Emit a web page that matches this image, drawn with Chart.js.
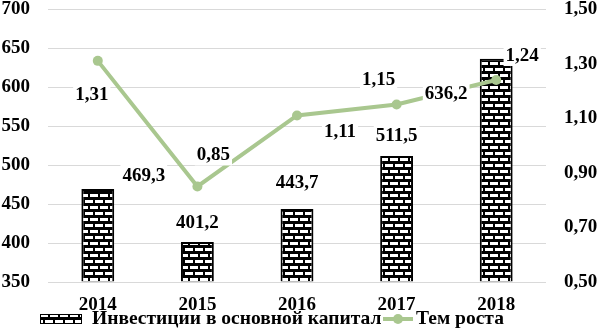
<!DOCTYPE html>
<html>
<head>
<meta charset="utf-8">
<script src="https://cdn.jsdelivr.net/npm/chart.js@4/dist/chart.umd.min.js"></script>
<style>
  html, body { margin: 0; padding: 0; background: #fff; }
  #wrap { width: 599px; height: 336px; }
</style>
</head>
<body>
<div id="wrap"><canvas id="myChart"></canvas></div>
<script>
const years = ['2014', '2015', '2016', '2017', '2018'];
const investments = [469.3, 401.2, 443.7, 511.5, 636.2];
const growthRate = [1.31, 0.85, 1.11, 1.15, 1.24];
const leftTicks = [350, 400, 450, 500, 550, 600, 650, 700];
const rightTicks = [0.5, 0.7, 0.9, 1.1, 1.3, 1.5];

const seriesNames = ['Инвестиции в основной капитал', 'Тем роста'];
const green = '#a9c78f';
const fontFamily = '"Liberation Serif", "Times New Roman", serif';
const tickFont = { family: fontFamily, size: 19, weight: 'bold', lineHeight: 1 };

// label offsets (px) from the bar top / point, tuned by eye
const barLabelShift = [[46, -14], [0, -20], [0, -27], [0, -21], [-50, 34]];
const lineLabelShift = [[-6, 33], [16, -32], [43, 16], [-18, -25], [26, -25]];

const comma = (v, d) => v.toFixed(d).replace('.', ',');

function brickPattern() {
    const c = document.createElement('canvas');
    c.width = 10;
    c.height = 12;
    const g = c.getContext('2d');
    g.fillStyle = '#000';
    g.fillRect(0, 0, 10, 12);
    g.fillStyle = '#fff';
    g.fillRect(0, 2, 8, 3);
    g.fillRect(5, 8, 5, 3);
    g.fillRect(0, 8, 3, 3);
    return g.createPattern(c, 'repeat');
}
const bricks = brickPattern();

// fixed axis sizes (chart.js doubles tick padding when fitting)
const fixSize = (size, top) => (axis) => {
    if (axis.isHorizontal()) {
        axis.height = size;
        axis.paddingLeft = 0;
        axis.paddingRight = 0;
    } else {
        axis.width = size;
        axis.paddingTop = top;
        axis.paddingBottom = 0;
    }
};

const labelsPlugin = {
    id: 'valueLabels',
    afterDatasetsDraw(chart) {
        const ctx = chart.ctx;
        ctx.save();
        ctx.font = 'bold 19px ' + fontFamily;
        ctx.textAlign = 'center';
        ctx.textBaseline = 'middle';
        const draw = (text, x, y) => {
            const w = ctx.measureText(text).width + 4;
            ctx.fillStyle = '#fff';
            ctx.fillRect(x - w / 2, y - 11, w, 22);
            ctx.fillStyle = '#000';
            ctx.fillText(text, x, y + 1);
        };
        chart.getDatasetMeta(0).data.forEach((el, i) => {
            draw(comma(investments[i], 1), el.x + barLabelShift[i][0], el.y + barLabelShift[i][1]);
        });
        chart.getDatasetMeta(1).data.forEach((el, i) => {
            draw(comma(growthRate[i], 2), el.x + lineLabelShift[i][0], el.y + lineLabelShift[i][1]);
        });
        ctx.restore();
    }
};

const legendPlugin = {
    id: 'bottomLegend',
    afterDraw(chart) {
        const ctx = chart.ctx;
        const y = 319;
        ctx.save();
        ctx.fillStyle = bricks;
        ctx.fillRect(40, y - 5, 42, 10);
        ctx.strokeStyle = '#000';
        ctx.lineWidth = 1;
        ctx.strokeRect(40.5, y - 4.5, 41, 9);

        ctx.font = 'bold 19.5px ' + fontFamily;
        ctx.fillStyle = '#000';
        ctx.textBaseline = 'middle';
        ctx.textAlign = 'left';
        ctx.fillText(seriesNames[0], 92, y);

        ctx.strokeStyle = green;
        ctx.lineWidth = 4;
        ctx.beginPath();
        ctx.moveTo(383, y);
        ctx.lineTo(413, y);
        ctx.stroke();
        ctx.fillStyle = green;
        ctx.beginPath();
        ctx.arc(398, y, 5, 0, Math.PI * 2);
        ctx.fill();

        ctx.fillStyle = '#000';
        ctx.fillText(seriesNames[1], 416, y);
        ctx.restore();
    }
};

new Chart(document.getElementById('myChart'), {
    data: {
        labels: years,
        datasets: [
            {
                type: 'bar',
                label: seriesNames[0],
                data: investments,
                yAxisID: 'y',
                base: leftTicks[0],
                backgroundColor: bricks,
                borderColor: '#000',
                borderWidth: 2,
                barPercentage: 0.33,
                categoryPercentage: 1,
                order: 1,
            },
            {
                type: 'line',
                label: seriesNames[1],
                data: growthRate,
                yAxisID: 'y1',
                borderColor: green,
                backgroundColor: green,
                borderWidth: 4,
                pointRadius: 5,
                pointBackgroundColor: green,
                pointBorderWidth: 0,
                tension: 0,
                order: 0,
            },
        ],
    },
    options: {
        responsive: true,
        maintainAspectRatio: false,
        animation: false,
        layout: { padding: { top: 0, bottom: 22, left: 0, right: 0 }, autoPadding: false },
        plugins: {
            legend: { display: false },
            tooltip: { enabled: false },
        },
        scales: {
            x: {
                grid: { display: false, drawTicks: false },
                border: { display: false },
                afterFit: fixSize(32, 0),
                ticks: { color: '#000', padding: 14, font: tickFont },
            },
            y: {
                position: 'left',
                min: leftTicks[0],
                max: leftTicks[leftTicks.length - 1],
                afterBuildTicks: (axis) => { axis.ticks = leftTicks.map(v => ({ value: v })); },
                afterFit: fixSize(48, 9),
                grid: { color: '#d9d9d9', lineWidth: 1, drawTicks: false },
                border: { display: false },
                ticks: { color: '#000', padding: 18, font: tickFont, callback: (v) => String(v) },
            },
            y1: {
                position: 'right',
                min: rightTicks[0],
                max: rightTicks[rightTicks.length - 1],
                afterBuildTicks: (axis) => { axis.ticks = rightTicks.map(v => ({ value: v })); },
                afterFit: fixSize(53, 9),
                grid: { display: false, drawTicks: false },
                border: { display: false },
                ticks: { color: '#000', padding: 18, font: tickFont, callback: (v) => comma(v, 2) },
            },
        },
    },
    plugins: [labelsPlugin, legendPlugin],
});
</script>
</body>
</html>
